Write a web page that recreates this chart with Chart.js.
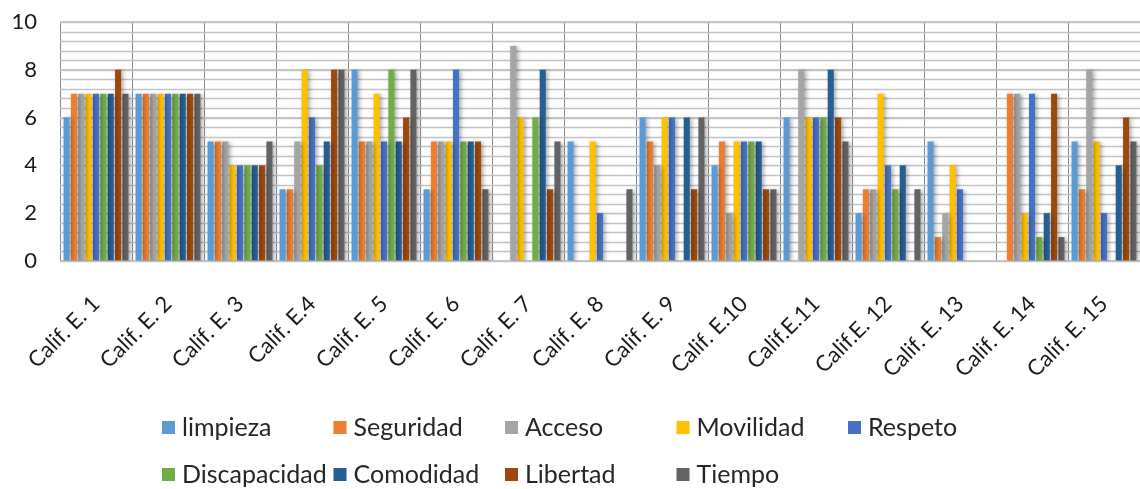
<!DOCTYPE html>
<html>
<head>
<meta charset="utf-8">
<script src="https://cdn.jsdelivr.net/npm/chart.js@4"></script>
<style>
  html, body { margin: 0; padding: 0; background: #fff; }
  #wrap { position: relative; width: 1140px; height: 489px; }
</style>
</head>
<body>
<div id="wrap"><canvas id="califChart"></canvas></div>
<script>
const categorias = ['Calif. E. 1', 'Calif. E. 2', 'Calif. E. 3', 'Calif. E.4', 'Calif. E. 5',
  'Calif. E. 6', 'Calif. E. 7', 'Calif. E. 8', 'Calif. E. 9', 'Calif. E.10',
  'Calif.E.11', 'Calif.E. 12', 'Calif. E. 13', 'Calif. E. 14', 'Calif. E. 15'];

const limpieza     = [6, 7, 5, 3, 8, 3, 0, 5, 6, 4, 6, 2, 5, 0, 5];
const seguridad    = [7, 7, 5, 3, 5, 5, 0, 0, 5, 5, 0, 3, 1, 7, 3];
const acceso       = [7, 7, 5, 5, 5, 5, 9, 0, 4, 2, 8, 3, 2, 7, 8];
const movilidad    = [7, 7, 4, 8, 7, 5, 6, 5, 6, 5, 6, 7, 4, 2, 5];
const respeto      = [7, 7, 4, 6, 5, 8, 0, 2, 6, 5, 6, 4, 3, 7, 2];
const discapacidad = [7, 7, 4, 4, 8, 5, 6, 0, 0, 5, 6, 3, 0, 1, 0];
const comodidad    = [7, 7, 4, 5, 5, 5, 8, 0, 6, 5, 8, 4, 0, 2, 4];
const libertad     = [8, 7, 4, 8, 6, 5, 3, 0, 3, 3, 6, 0, 0, 7, 6];
const tiempo       = [7, 7, 5, 8, 8, 3, 5, 3, 6, 3, 5, 3, 0, 1, 5];

const series = [
  { label: 'limpieza', data: limpieza, color: '#5B9BD5' },
  { label: 'Seguridad', data: seguridad, color: '#ED7D31' },
  { label: 'Acceso', data: acceso, color: '#A5A5A5' },
  { label: 'Movilidad', data: movilidad, color: '#FFC000' },
  { label: 'Respeto', data: respeto, color: '#4472C4' },
  { label: 'Discapacidad', data: discapacidad, color: '#70AD47' },
  { label: 'Comodidad', data: comodidad, color: '#255E91' },
  { label: 'Libertad', data: libertad, color: '#9E480E' },
  { label: 'Tiempo', data: tiempo, color: '#636363' }
];

const yMax = 10;
const yMajorStep = 2;     // labelled ticks
const yMinorStep = 0.4;   // minor gridlines between them
const gridColor = '#c4c4c4';

// minor horizontal gridlines, drawn through the y scale
const minorGrid = {
  id: 'minorGrid',
  beforeDatasetsDraw(chart) {
    const { ctx, chartArea, scales } = chart;
    const n = Math.round(yMax / yMinorStep);
    ctx.save();
    ctx.strokeStyle = gridColor;
    ctx.lineWidth = 1.3;
    for (let i = 0; i <= n; i++) {
      const y = Math.round(scales.y.getPixelForValue(i * yMinorStep)) + 0.5;
      ctx.beginPath();
      ctx.moveTo(chartArea.left, y);
      ctx.lineTo(chartArea.right, y);
      ctx.stroke();
    }
    ctx.restore();
  }
};

// soft drop shadow under the bars
const barShadow = {
  id: 'barShadow',
  beforeDatasetsDraw(chart) {
    const ctx = chart.ctx;
    ctx.save();
    ctx.shadowColor = 'rgba(0, 0, 0, 0.35)';
    ctx.shadowBlur = 4;
    ctx.shadowOffsetX = 2;
    ctx.shadowOffsetY = 1;
  },
  afterDatasetsDraw(chart) {
    chart.ctx.restore();
  }
};

// legend laid out as a 5-column grid below the axis labels
const gridLegend = {
  id: 'gridLegend',
  afterDraw(chart) {
    const ctx = chart.ctx;
    const left = 162, colW = 171.5, top = 427, rowH = 47;
    ctx.save();
    ctx.font = '25px Lato';
    ctx.textBaseline = 'middle';
    chart.data.datasets.forEach((ds, i) => {
      const x = left + (i % 5) * colW;
      const y = top + Math.floor(i / 5) * rowH;
      ctx.fillStyle = ds.backgroundColor;
      ctx.fillRect(x, y - 6, 13, 13);
      ctx.fillStyle = '#262626';
      ctx.fillText(ds.label, x + 20, y + 1);
    });
    ctx.restore();
  }
};

const ctx = document.getElementById('califChart').getContext('2d');
new Chart(ctx, {
  type: 'bar',
  data: {
    labels: categorias,
    datasets: series.map(s => ({
      label: s.label,
      data: s.data,
      backgroundColor: s.color,
      borderWidth: 0,
      categoryPercentage: 0.92,
      barPercentage: 0.82
    }))
  },
  options: {
    responsive: true,
    maintainAspectRatio: false,
    animation: false,
    layout: { padding: { top: 22, bottom: 98, left: 0, right: 0 } },
    plugins: {
      legend: { display: false },
      tooltip: { enabled: false }
    },
    scales: {
      x: {
        grid: { color: '#8a8a8a', lineWidth: 1, drawTicks: false },
        border: { color: '#a0a0a0' },
        ticks: {
          color: '#1a1a1a',
          font: { family: 'Lato', size: 22 },
          maxRotation: 45,
          minRotation: 45,
          autoSkip: false,
          padding: 30
        },
        afterFit(scale) {
          scale.height = 130;
          scale.paddingLeft = 0;
          scale.paddingRight = 0;
        }
      },
      y: {
        min: 0,
        max: yMax,
        grid: { color: gridColor, lineWidth: 1.3, drawTicks: false },
        border: { display: false },
        ticks: {
          stepSize: yMajorStep,
          color: '#1a1a1a',
          font: { family: 'Lato', size: 22 },
          padding: 23
        },
        afterFit(scale) {
          scale.width = 60;
          scale.paddingTop = 0;
          scale.paddingBottom = 0;
        }
      }
    }
  },
  plugins: [minorGrid, barShadow, gridLegend]
});
</script>
</body>
</html>
